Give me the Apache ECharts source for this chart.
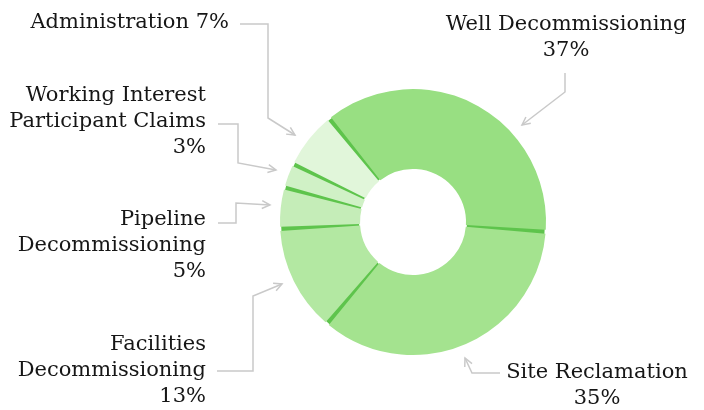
<!DOCTYPE html>
<html>
<head>
<meta charset="utf-8">
<script src="https://cdn.jsdelivr.net/npm/echarts@6/dist/echarts.min.js"></script>
<style>
  html, body { margin: 0; padding: 0; background: #fff; }
  #chart { width: 704px; height: 410px; }
</style>
</head>
<body>
<div id="chart"></div>
<script>
// data
const categories = [
    'Well Decommissioning',
    'Site Reclamation',
    'Facilities Decommissioning',
    'Pipeline Decommissioning',
    'Working Interest Participant Claims',
    'Administration'
];
const shares = [37, 35, 13, 5, 3, 7];

// how each label is broken into lines ({p} = the percentage)
const labelText = [
    ['Well Decommissioning', '{p}'],
    ['Site Reclamation', '{p}'],
    ['Facilities', 'Decommissioning', '{p}'],
    ['Pipeline', 'Decommissioning', '{p}'],
    ['Working Interest', 'Participant Claims', '{p}'],
    ['Administration {p}']
];

// styling / layout
const sliceColors = ['#98df82', '#a4e38f', '#b3e8a2', '#c5edb8', '#d0f1c6', '#e1f6da'];
const sepColor = '#5ec44c';
const guideColor = '#c9c9c9';
const center = [413, 222];

const labelPos = [
    { x: 566, y: 38, align: 'center' },
    { x: 597, y: 386, align: 'center' },
    { x: 206, y: 371, align: 'right' },
    { x: 206, y: 246, align: 'right' },
    { x: 206, y: 122, align: 'right' },
    { x: 229, y: 23, align: 'right' }
];

// guide lines from label to slice (last point = arrow tip)
const guides = [
    [[565, 73], [565, 92], [522, 125]],
    [[500, 373], [472, 373], [465, 358]],
    [[217, 371], [253, 371], [253, 296], [282, 284]],
    [[218, 223], [236, 223], [236, 203], [270, 205]],
    [[218, 124], [238, 124], [238, 163], [276, 170]],
    [[240, 24], [268, 24], [268, 118], [295, 135]]
];

function arrowHead(pts) {
    const t = pts[pts.length - 1];
    const p = pts[pts.length - 2];
    let dx = t[0] - p[0], dy = t[1] - p[1];
    const len = Math.sqrt(dx * dx + dy * dy);
    dx /= len; dy /= len;
    const back = 8, half = 4;
    return [
        [t[0] - dx * back - dy * half, t[1] - dy * back + dx * half],
        t,
        [t[0] - dx * back + dy * half, t[1] - dy * back - dx * half]
    ];
}

const graphics = [];
guides.forEach(pts => {
    graphics.push({
        type: 'polyline',
        shape: { points: pts },
        style: { stroke: guideColor, lineWidth: 1.5, fill: null },
        silent: true
    });
    graphics.push({
        type: 'polyline',
        shape: { points: arrowHead(pts) },
        style: { stroke: guideColor, lineWidth: 1.5, fill: null },
        silent: true
    });
});

const chart = echarts.init(document.getElementById('chart'));

chart.setOption({
    animation: false,
    backgroundColor: '#fff',
    graphic: graphics,
    series: [
        {
            // dark ring showing through the gaps between slices
            type: 'pie',
            silent: true,
            center: center,
            radius: [54, 132],
            label: { show: false },
            labelLine: { show: false },
            data: [{ value: 1, itemStyle: { color: sepColor } }],
            z: 1
        },
        {
            type: 'pie',
            center: center,
            radius: [53, 133],
            startAngle: 129,
            clockwise: true,
            padAngle: 1.8,
            avoidLabelOverlap: false,
            data: categories.map((name, i) => ({
                name: name,
                value: shares[i],
                itemStyle: { color: sliceColors[i] }
            })),
            label: {
                show: true,
                position: 'outside',
                fontFamily: 'DejaVu Serif',
                fontSize: 21,
                lineHeight: 26,
                color: '#161616',
                formatter: function (params) {
                    return labelText[params.dataIndex]
                        .map(s => s.replace('{p}', params.value + '%'))
                        .join('\n');
                }
            },
            labelLine: { show: false },
            labelLayout: function (params) {
                const p = labelPos[params.dataIndex];
                return {
                    x: p.x,
                    y: p.y,
                    align: p.align,
                    verticalAlign: 'middle',
                    hideOverlap: false
                };
            },
            emphasis: { disabled: true },
            z: 2
        }
    ]
});

window.addEventListener('resize', () => chart.resize());
</script>
</body>
</html>
